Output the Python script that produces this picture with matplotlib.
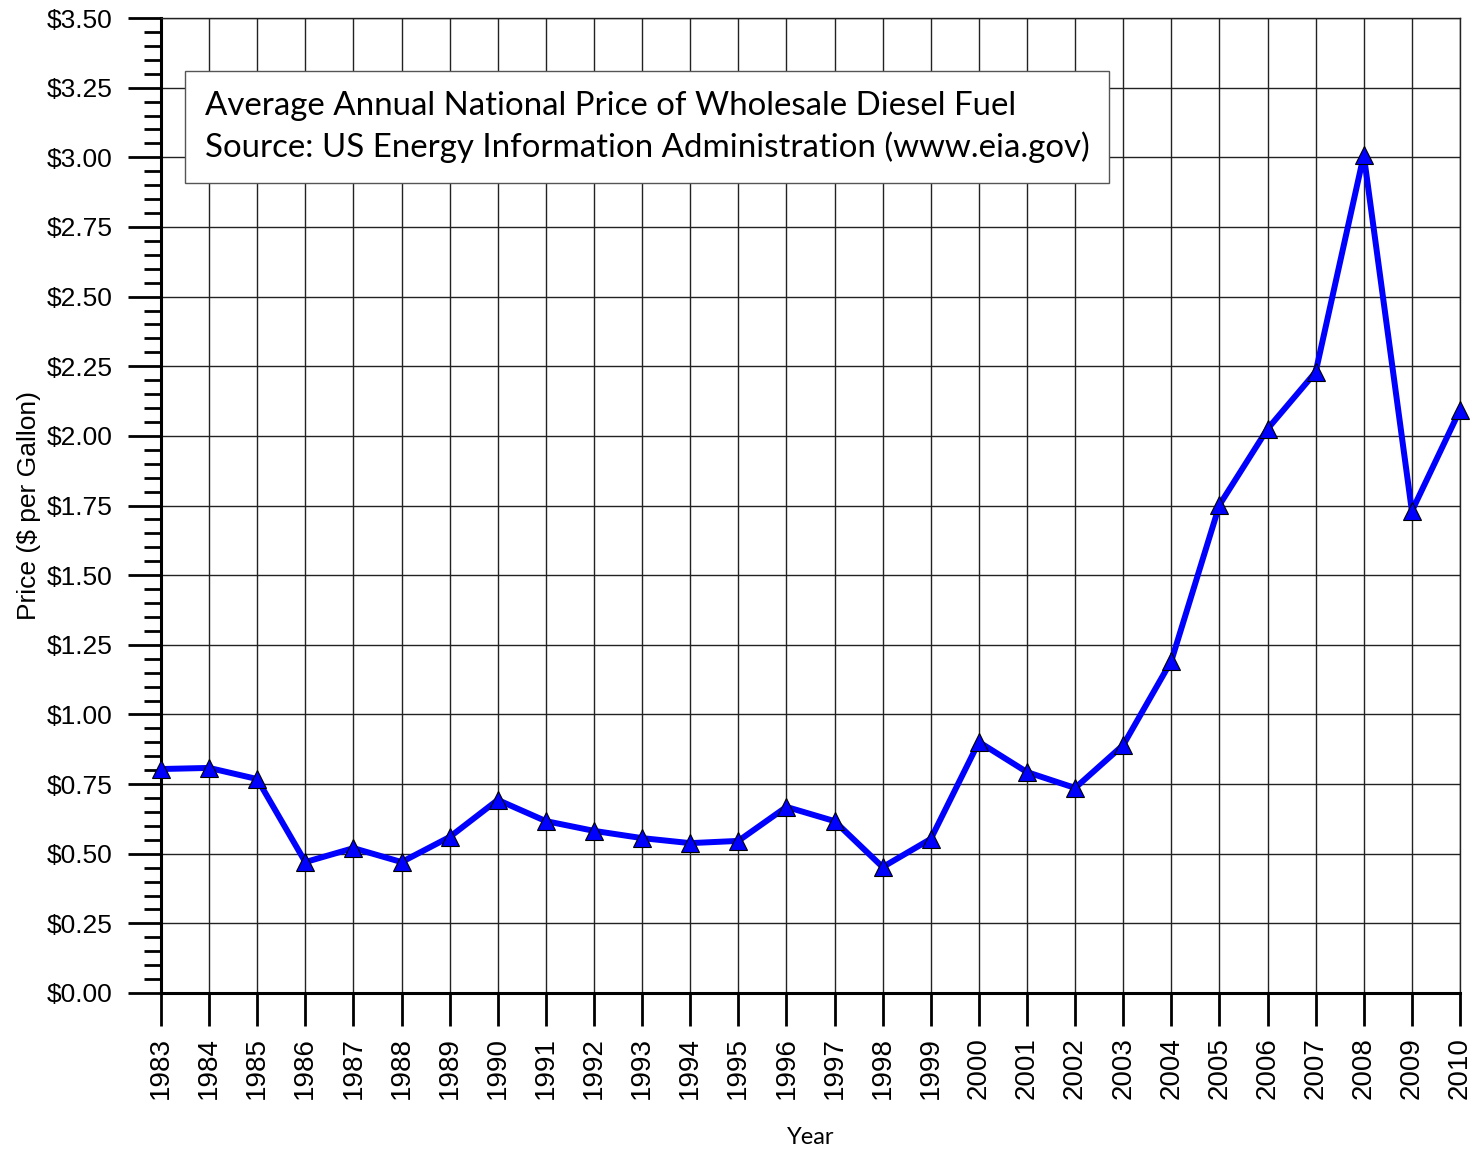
import numpy as np
import matplotlib
matplotlib.use('Agg')
import matplotlib.pyplot as plt
from matplotlib.ticker import MultipleLocator, FuncFormatter

years = list(range(1983, 2011))
prices = [0.804, 0.808, 0.768, 0.470, 0.520, 0.470, 0.560, 0.693, 0.617, 0.582,
          0.556, 0.538, 0.546, 0.668, 0.617, 0.452, 0.553, 0.901, 0.793, 0.736,
          0.890, 1.192, 1.752, 2.025, 2.229, 3.008, 1.730, 2.093]

title_lines = ["Average Annual National Price of Wholesale Diesel Fuel",
               "Source: US Energy Information Administration (www.eia.gov)"]

plt.rcParams['font.family'] = ['Liberation Sans', 'DejaVu Sans']

fig = plt.figure(figsize=(14.79, 11.51), dpi=100)
ax = fig.add_axes([161/1479, 1 - 993/1151, (1460 - 161)/1479, (993 - 18)/1151])

# grid
ax.set_axisbelow(True)
ax.grid(True, which='major', color='#222222', linewidth=1.0)

ax.plot(years, prices, color='#0000ff', linewidth=4.3, marker='^', markersize=12.5,
        markerfacecolor='#0000ff', markeredgecolor='black', markeredgewidth=0.8,
        clip_on=False, zorder=5)

ax.set_xlim(1983, 2010)
ax.set_ylim(0, 3.5)
ax.set_xticks(years)
ax.set_xticklabels([str(y) for y in years], rotation=90, fontsize=20)
ax.yaxis.set_major_locator(MultipleLocator(0.25))
ax.yaxis.set_minor_locator(MultipleLocator(0.05))
ax.yaxis.set_major_formatter(FuncFormatter(lambda v, p: '${:.2f}'.format(v)))
for lbl in ax.get_yticklabels():
    lbl.set_fontsize(19)

ax.tick_params(axis='x', which='major', direction='out', length=24, width=2, pad=8)
ax.tick_params(axis='y', which='major', direction='out', length=24, width=2, pad=11)
ax.tick_params(axis='y', which='minor', direction='out', length=12, width=2)

for s in ['left', 'bottom']:
    ax.spines[s].set_linewidth(2.2)
for s in ['top', 'right']:
    ax.spines[s].set_linewidth(1.0)
    ax.spines[s].set_color('#222222')

ax.set_ylabel('Price ($ per Gallon)', fontsize=19, labelpad=4)
ax.set_xlabel('Year', fontsize=17, family=['Lato', 'DejaVu Sans'], labelpad=20)

ax.text(0.0336, 0.925, "\n".join(title_lines), transform=ax.transAxes,
        fontsize=23.8, family=['Lato', 'DejaVu Sans'], va='top', ha='left',
        linespacing=1.4, zorder=10,
        bbox=dict(boxstyle='square,pad=0.6', facecolor='white',
                  edgecolor='#555555', linewidth=1.0))

fig.savefig('out.png', dpi=100, facecolor='white')
